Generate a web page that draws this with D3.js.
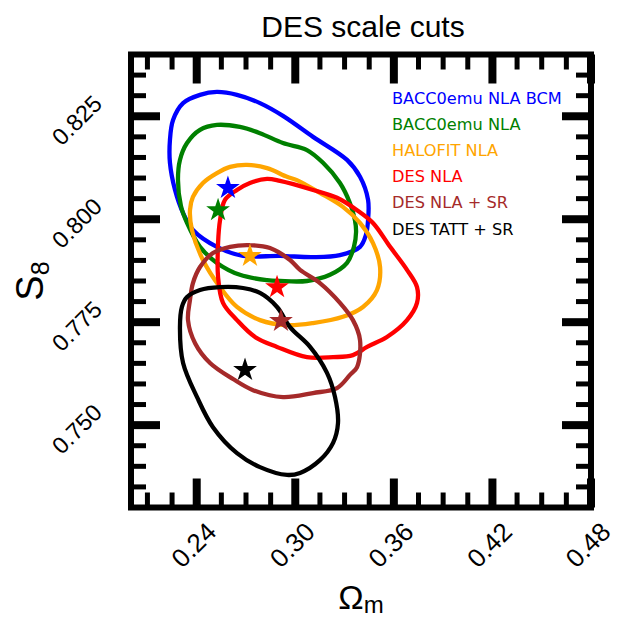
<!DOCTYPE html>
<html>
<head>
<meta charset="utf-8">
<script src="https://cdn.jsdelivr.net/npm/d3@7"></script>
<style>
html,body{margin:0;padding:0;background:#fff;}
svg{display:block;}
</style>
</head>
<body>
<svg id="chart" width="618" height="619"></svg>
<script>
// ---------- data ----------
const seriesNames = ["BACC0emu NLA BCM","BACC0emu NLA","HALOFIT NLA","DES NLA","DES NLA + SR","DES TATT + SR"];
const seriesColors = ["#0000ff","#008000","#ffa500","#ff0000","#a52a2a","#000000"];

const contourBACCObcm = [[0.2420,0.8302],[0.2523,0.8309],[0.2645,0.8302],[0.2785,0.8282],[0.2925,0.8251],[0.3108,0.8200],[0.3315,0.8144],[0.3394,0.8103],[0.3443,0.8047],[0.3443,0.7998],[0.3430,0.7962],[0.3394,0.7933],[0.3272,0.7913],[0.3108,0.7908],[0.2907,0.7911],[0.2682,0.7911],[0.2523,0.7933],[0.2377,0.7974],[0.2317,0.8015],[0.2268,0.8071],[0.2237,0.8137],[0.2237,0.8192],[0.2256,0.8241],[0.2317,0.8282]];
const contourBACCO = [[0.2523,0.8229],[0.2663,0.8224],[0.2785,0.8209],[0.2925,0.8185],[0.3071,0.8168],[0.3169,0.8137],[0.3272,0.8088],[0.3333,0.8039],[0.3363,0.7998],[0.3370,0.7969],[0.3357,0.7933],[0.3315,0.7894],[0.3211,0.7865],[0.3071,0.7850],[0.2907,0.7850],[0.2828,0.7852],[0.2663,0.7865],[0.2523,0.7894],[0.2420,0.7933],[0.2341,0.7991],[0.2304,0.8032],[0.2286,0.8095],[0.2298,0.8144],[0.2341,0.8185],[0.2420,0.8217]];
const contourHALOFIT = [[0.2706,0.8132],[0.2828,0.8124],[0.2950,0.8103],[0.3010,0.8095],[0.3150,0.8064],[0.3290,0.8030],[0.3394,0.7991],[0.3473,0.7942],[0.3516,0.7884],[0.3497,0.7828],[0.3412,0.7787],[0.3290,0.7763],[0.3108,0.7748],[0.2950,0.7743],[0.2785,0.7755],[0.2645,0.7787],[0.2542,0.7835],[0.2438,0.7901],[0.2371,0.7974],[0.2359,0.8022],[0.2377,0.8054],[0.2438,0.8088],[0.2523,0.8112],[0.2603,0.8127]];
const contourDESNLA = [[0.2645,0.8071],[0.2724,0.8088],[0.2828,0.8098],[0.2907,0.8093],[0.3108,0.8071],[0.3254,0.8052],[0.3376,0.8022],[0.3473,0.7991],[0.3577,0.7933],[0.3680,0.7877],[0.3741,0.7835],[0.3741,0.7797],[0.3680,0.7755],[0.3558,0.7714],[0.3437,0.7690],[0.3351,0.7670],[0.3230,0.7665],[0.3071,0.7665],[0.2889,0.7690],[0.2755,0.7714],[0.2645,0.7755],[0.2560,0.7797],[0.2530,0.7860],[0.2530,0.7942],[0.2542,0.7998],[0.2572,0.8047]];
const contourDESNLASR = [[0.2603,0.7933],[0.2724,0.7937],[0.2846,0.7930],[0.2968,0.7901],[0.3029,0.7877],[0.3150,0.7845],[0.3272,0.7797],[0.3351,0.7755],[0.3394,0.7707],[0.3376,0.7641],[0.3333,0.7622],[0.3254,0.7590],[0.3108,0.7578],[0.2925,0.7568],[0.2743,0.7585],[0.2621,0.7612],[0.2481,0.7651],[0.2390,0.7699],[0.2347,0.7755],[0.2359,0.7804],[0.2377,0.7845],[0.2420,0.7884],[0.2499,0.7918]];
const contourDESTATTSR = [[0.2341,0.7811],[0.2420,0.7828],[0.2542,0.7835],[0.2682,0.7833],[0.2785,0.7821],[0.2889,0.7787],[0.2968,0.7738],[0.3090,0.7690],[0.3193,0.7627],[0.3242,0.7568],[0.3260,0.7505],[0.3230,0.7457],[0.3150,0.7415],[0.3029,0.7384],[0.2950,0.7379],[0.2785,0.7398],[0.2645,0.7432],[0.2499,0.7495],[0.2402,0.7568],[0.2317,0.7651],[0.2298,0.7738],[0.2310,0.7787]];
const contours = [contourBACCObcm, contourBACCO, contourHALOFIT, contourDESNLA, contourDESNLASR, contourDESTATTSR];

// best-fit points (Omega_m, S8)
const bestOm = [0.2590, 0.2530, 0.2724, 0.2889, 0.2913, 0.2694];
const bestS8 = [0.8076, 0.8022, 0.7911, 0.7835, 0.7753, 0.7634];

// axes
const xDomain = [0.20, 0.48];
const yDomain = [0.73, 0.84];
const xMajorTicks = [0.24, 0.30, 0.36, 0.42, 0.48];
const xTickLabels = ["0.24", "0.30", "0.36", "0.42", "0.48"];
const xMinorTicks = [0.21, 0.225, 0.255, 0.27, 0.285, 0.315, 0.33, 0.345, 0.375, 0.39, 0.405, 0.435, 0.45, 0.465];
const yMajorTicks = [0.750, 0.775, 0.800, 0.825];
const yTickLabels = ["0.750", "0.775", "0.800", "0.825"];
const yMinorTicks = [0.735, 0.740, 0.745, 0.755, 0.760, 0.765, 0.770, 0.780, 0.785, 0.790, 0.795, 0.805, 0.810, 0.815, 0.820, 0.830, 0.835];
const titleText = "DES scale cuts";

// ---------- drawing ----------
const svg = d3.select("#chart");
const L = 131, R = 591, T = 54.5, B = 507.5;
const x = d3.scaleLinear().domain(xDomain).range([L, R]);
const y = d3.scaleLinear().domain(yDomain).range([B, T]);

const clipId = "plotclip";
svg.append("defs").append("clipPath").attr("id", clipId)
  .append("rect").attr("x", L).attr("y", T).attr("width", R - L).attr("height", B - T);

const plot = svg.append("g").attr("clip-path", `url(#${clipId})`);
const line = d3.line().x(d => x(d[0])).y(d => y(d[1])).curve(d3.curveCatmullRomClosed.alpha(0.5));

contours.forEach((c, i) => {
  plot.append("path").attr("d", line(c))
    .attr("fill", "none").attr("stroke", seriesColors[i])
    .attr("stroke-width", 4.3).attr("stroke-linejoin", "round");
});

const star = d3.symbol().type(d3.symbolStar).size(175);
bestOm.forEach((om, i) => {
  plot.append("path").attr("d", star())
    .attr("transform", `translate(${x(om)},${y(bestS8[i])})`)
    .attr("fill", seriesColors[i]);
});

// ticks (inward, all sides)
const tickG = svg.append("g").attr("stroke", "#000");
const majLen = 29, minLen = 15, majW = 8, minW = 5;
xMajorTicks.forEach(v => {
  tickG.append("line").attr("x1", x(v)).attr("x2", x(v)).attr("y1", B).attr("y2", B - majLen).attr("stroke-width", majW);
  tickG.append("line").attr("x1", x(v)).attr("x2", x(v)).attr("y1", T).attr("y2", T + majLen).attr("stroke-width", majW);
});
xMinorTicks.forEach(v => {
  tickG.append("line").attr("x1", x(v)).attr("x2", x(v)).attr("y1", B).attr("y2", B - minLen).attr("stroke-width", minW);
  tickG.append("line").attr("x1", x(v)).attr("x2", x(v)).attr("y1", T).attr("y2", T + minLen).attr("stroke-width", minW);
});
yMajorTicks.forEach(v => {
  tickG.append("line").attr("y1", y(v)).attr("y2", y(v)).attr("x1", L).attr("x2", L + majLen).attr("stroke-width", majW);
  tickG.append("line").attr("y1", y(v)).attr("y2", y(v)).attr("x1", R).attr("x2", R - majLen).attr("stroke-width", majW);
});
yMinorTicks.forEach(v => {
  tickG.append("line").attr("y1", y(v)).attr("y2", y(v)).attr("x1", L).attr("x2", L + minLen).attr("stroke-width", minW);
  tickG.append("line").attr("y1", y(v)).attr("y2", y(v)).attr("x1", R).attr("x2", R - minLen).attr("stroke-width", minW);
});

// frame
svg.append("rect").attr("x", L).attr("y", T).attr("width", R - L).attr("height", B - T)
  .attr("fill", "none").attr("stroke", "#000").attr("stroke-width", 6);

// tick labels
const labFont = "'Liberation Sans', Arial, Helvetica, sans-serif";
xMajorTicks.forEach((v, i) => {
  svg.append("text").attr("transform", `translate(${x(v) - 3},${545}) rotate(-45)`)
    .attr("text-anchor", "middle").attr("dominant-baseline", "central")
    .attr("font-family", labFont).attr("font-size", 26).attr("fill", "#000")
    .text(xTickLabels[i]);
});
yMajorTicks.forEach((v, i) => {
  svg.append("text").attr("transform", `translate(${77},${y(v) + 4}) rotate(-45)`)
    .attr("text-anchor", "middle").attr("dominant-baseline", "central")
    .attr("font-family", labFont).attr("font-size", 23.5).attr("fill", "#000")
    .text(yTickLabels[i]);
});

// axis labels
const xl = svg.append("text").attr("x", (L + R) / 2).attr("y", 609)
  .attr("text-anchor", "middle").attr("font-family", labFont).attr("font-size", 34).attr("fill", "#000");
xl.append("tspan").text("Ω");
xl.append("tspan").attr("font-size", 24).attr("dy", 4).text("m");

const yl = svg.append("text").attr("transform", `translate(43,${(T + B) / 2}) rotate(-90)`)
  .attr("text-anchor", "middle").attr("font-family", labFont).attr("font-size", 38).attr("fill", "#000");
yl.append("tspan").text("S");
yl.append("tspan").attr("font-size", 25).attr("dy", 6).text("8");

// title
svg.append("text").attr("x", 363).attr("y", 37).attr("text-anchor", "middle")
  .attr("font-family", labFont).attr("font-size", 30).attr("fill", "#000").text(titleText);

// legend
seriesNames.forEach((n, i) => {
  svg.append("text").attr("x", 392).attr("y", 98.5 + i * 26.1)
    .attr("dominant-baseline", "central")
    .attr("font-family", "'DejaVu Sans', sans-serif").attr("font-size", 16.2)
    .attr("fill", seriesColors[i]).text(n);
});
</script>
</body>
</html>
